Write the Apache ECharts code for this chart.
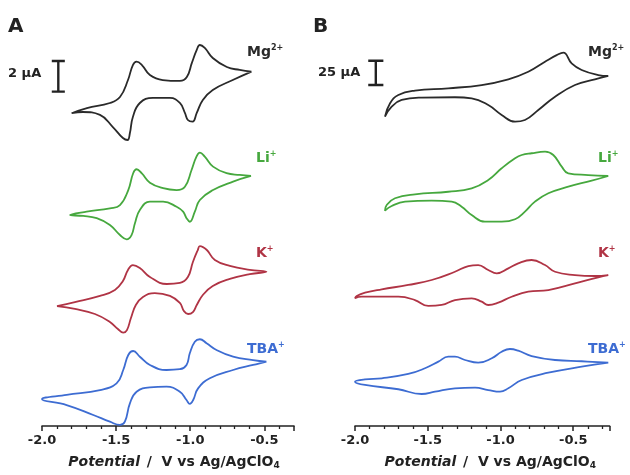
<!DOCTYPE html>
<html>
<head>
<meta charset="utf-8">
<script src="https://cdn.jsdelivr.net/npm/echarts@6/dist/echarts.min.js"></script>
<style>
  html, body { margin: 0; padding: 0; background: #fff; }
  #cv { width: 630px; height: 475px; }
</style>
</head>
<body>
<div id="cv"></div>
<script>
// cations, top to bottom
const cations = ['Mg', 'Li', 'K', 'TBA'];
const cationSup = ['2+', '+', '+', '+'];
const colors = ['#2a2a2a', '#46a83e', '#b03445', '#3d6cd2'];

// vertical stacking of the traces (uA)
const offsetsA = [22, 15, 8.5, 2.5];
const offsetsB = [330, 240, 140, 50];

// panel A: [potential V vs Ag/AgClO4, current uA]
const cvA_Mg = [[-0.587,1.16],[-0.713,0.61],[-0.848,-0.04],[-0.915,-0.69],[-0.956,-1.54],[-0.984,-2.11],[-1.016,-2.0],[-1.036,-1.54],[-1.070,-0.89],[-1.137,-0.56],[-1.252,-0.56],[-1.340,-0.89],[-1.387,-1.80],[-1.407,-2.85],[-1.423,-3.31],[-1.454,-3.18],[-1.522,-2.46],[-1.609,-1.67],[-1.724,-1.48],[-1.800,-1.56],
  [-1.697,-1.22],[-1.542,-0.89],[-1.474,-0.50],[-1.420,0.61],[-1.387,1.59],[-1.362,1.81],[-1.326,1.59],[-1.272,0.94],[-1.185,0.61],[-1.070,0.55],[-1.023,0.81],[-0.989,1.73],[-0.956,2.58],[-0.935,2.90],[-0.902,2.71],[-0.848,2.05],[-0.753,1.46],[-0.666,1.27],[-0.587,1.16]];
const cvA_Li = [[-0.59,1.34],[-0.711,0.97],[-0.846,0.42],[-0.935,-0.23],[-0.969,-0.99],[-1.003,-1.65],[-1.025,-1.42],[-1.048,-0.99],[-1.092,-0.67],[-1.183,-0.34],[-1.272,-0.34],[-1.340,-0.88],[-1.373,-1.75],[-1.396,-2.52],[-1.429,-2.80],[-1.474,-2.52],[-1.542,-1.86],[-1.631,-1.42],[-1.722,-1.27],[-1.811,-1.21],
  [-1.699,-0.99],[-1.542,-0.77],[-1.474,-0.56],[-1.418,0.42],[-1.385,1.52],[-1.362,1.78],[-1.328,1.52],[-1.272,0.90],[-1.183,0.54],[-1.092,0.42],[-1.036,0.64],[-0.991,1.73],[-0.958,2.60],[-0.935,2.86],[-0.902,2.60],[-0.846,1.95],[-0.755,1.52],[-0.666,1.41],[-0.59,1.34]];
const cvA_K = [[-1.899,-0.66],[-1.778,-0.40],[-1.609,0.00],[-1.508,0.39],[-1.454,0.98],[-1.420,1.70],[-1.387,2.02],[-1.340,1.83],[-1.272,1.24],[-1.158,0.78],[-1.070,0.85],[-1.016,1.24],[-0.982,2.22],[-0.949,3.00],[-0.935,3.26],[-0.888,3.00],[-0.834,2.35],[-0.733,1.96],[-0.598,1.70],[-0.486,1.58],
  [-0.598,1.43],[-0.733,1.11],[-0.848,0.65],[-0.915,0.06],[-0.956,-0.59],[-0.982,-1.05],[-1.014,-1.18],[-1.043,-0.98],[-1.070,-0.46],[-1.137,0.00],[-1.239,0.19],[-1.319,-0.07],[-1.367,-0.59],[-1.400,-1.44],[-1.427,-2.23],[-1.452,-2.40],[-1.488,-2.16],[-1.542,-1.70],[-1.643,-1.18],[-1.778,-0.85],[-1.899,-0.66]];
const cvA_TBA = [[-0.486,1.70],[-0.576,1.81],[-0.711,2.03],[-0.823,2.47],[-0.890,2.91],[-0.935,3.17],[-0.969,3.01],[-1.003,2.25],[-1.025,1.49],[-1.070,1.21],[-1.160,1.16],[-1.272,1.49],[-1.340,2.03],[-1.385,2.40],[-1.418,2.14],[-1.452,1.16],[-1.497,0.29],[-1.609,-0.15],[-1.834,-0.47],[-2.0,-0.75],
  [-1.834,-1.13],[-1.654,-1.78],[-1.542,-2.22],[-1.474,-2.43],[-1.441,-2.22],[-1.407,-1.02],[-1.362,-0.26],[-1.272,0.03],[-1.160,0.07],[-1.070,-0.26],[-1.025,-0.80],[-1.003,-1.06],[-0.980,-0.80],[-0.947,-0.04],[-0.868,0.62],[-0.711,1.16],[-0.576,1.49],[-0.486,1.70]];

// panel B
const cvB_Mg = [[-0.259,30.1],[-0.328,31.1],[-0.442,36.3],[-0.511,43.1],[-0.568,54.1],[-0.614,51.5],[-0.694,44.8],[-0.809,34.5],[-0.946,26.7],[-1.129,20.8],[-1.359,17.4],[-1.588,15.0],[-1.702,10.5],[-1.759,2.0],[-1.794,-11.8],
  [-1.748,-1.5],[-1.679,5.4],[-1.542,7.8],[-1.313,8.2],[-1.198,7.1],[-1.084,0.2],[-0.992,-10.0],[-0.900,-16.9],[-0.832,-15.2],[-0.740,-4.9],[-0.625,8.8],[-0.488,20.8],[-0.351,26.7],[-0.259,30.1]];
const cvB_Li = [[-0.259,17.2],[-0.397,18.2],[-0.534,20.0],[-0.579,26.8],[-0.637,38.8],[-0.694,42.2],[-0.786,40.6],[-0.854,38.8],[-0.900,35.4],[-0.992,25.1],[-1.084,13.1],[-1.198,4.5],[-1.359,1.0],[-1.588,-1.6],[-1.725,-5.7],[-1.782,-12.6],[-1.794,-18.5],
  [-1.748,-13.7],[-1.656,-9.2],[-1.473,-8.2],[-1.335,-9.2],[-1.267,-14.4],[-1.198,-22.9],[-1.107,-29.8],[-0.992,-29.8],[-0.900,-27.3],[-0.832,-19.5],[-0.763,-9.2],[-0.671,-0.6],[-0.534,6.2],[-0.373,12.4],[-0.259,17.2]];
const cvB_K = [[-0.259,15.3],[-0.351,14.3],[-0.488,15.3],[-0.625,18.7],[-0.694,25.6],[-0.786,30.8],[-0.878,27.4],[-0.946,22.2],[-1.026,17.1],[-1.084,20.5],[-1.153,25.6],[-1.221,24.6],[-1.313,18.7],[-1.473,10.2],[-1.634,5.1],[-1.816,0.6],[-1.931,-2.9],[-1.988,-6.3],[-2.0,-8.6],
  [-1.954,-7.0],[-1.702,-7.0],[-1.588,-10.4],[-1.496,-16.5],[-1.404,-15.5],[-1.313,-10.4],[-1.198,-8.6],[-1.129,-12.1],[-1.084,-15.5],[-1.015,-13.1],[-0.923,-7.0],[-0.809,-1.8],[-0.671,-0.1],[-0.488,6.8],[-0.328,13.0],[-0.259,15.3]];
const cvB_TBA = [[-0.259,15.1],[-0.442,16.6],[-0.625,17.9],[-0.786,22.0],[-0.878,27.5],[-0.935,29.2],[-0.992,26.4],[-1.060,19.7],[-1.153,15.1],[-1.244,17.9],[-1.313,21.3],[-1.359,21.3],[-1.427,16.2],[-1.519,9.4],[-1.634,3.5],[-1.816,-0.9],[-1.931,-2.0],[-2.0,-4.4],
  [-1.931,-7.8],[-1.702,-12.2],[-1.542,-17.1],[-1.450,-14.7],[-1.313,-11.2],[-1.175,-10.6],[-1.084,-13.0],[-1.003,-14.7],[-0.946,-11.2],[-0.854,-2.7],[-0.671,4.8],[-0.442,11.0],[-0.259,15.1]];

const tracesA = [cvA_Mg, cvA_Li, cvA_K, cvA_TBA];
const tracesB = [cvB_Mg, cvB_Li, cvB_K, cvB_TBA];

// scale bars: [potential, bottom current, length uA, half cap width V]
const scaleBarA = [-1.89, 21.85, 2, 0.044];
const scaleBarB = [-1.857, 350.8, 25, 0.052];

const font = '"DejaVu Sans", sans-serif';

function barPath(b) {
  const [p, y0, h, c] = b;
  return [[p - c, y0 + h], [p + c, y0 + h], [p, y0 + h], [p, y0], [p - c, y0], [p + c, y0]];
}

function cvSeries(traces, offsets, idx) {
  return traces.map((t, i) => ({
    type: 'line',
    xAxisIndex: idx, yAxisIndex: idx,
    data: t.map(d => [d[0], d[1] + offsets[i]]),
    showSymbol: false,
    smooth: 0.45,
    lineStyle: { color: colors[i], width: 1.8 },
    silent: true
  }));
}

function xAxisOf(idx, max, pad) {
  return {
    type: 'value', gridIndex: idx, min: -2.0, max: max, interval: 0.5,
    axisLine: { show: true, onZero: false, lineStyle: { color: '#222', width: 1.6 } },
    axisTick: { show: true, length: 5, lineStyle: { color: '#222', width: 1.5 } },
    minorTick: { show: true, splitNumber: 5, length: 3, lineStyle: { color: '#222', width: 1.3 } },
    splitLine: { show: false },
    axisLabel: {
      margin: 8, color: '#222', fontSize: 13, fontWeight: 'bold', fontFamily: font,
      formatter: v => Math.abs(v * 2 - Math.round(v * 2)) < 1e-6 ? v.toFixed(1) : ''
    },
    name: '{i|Potential}  {n|/  V vs Ag/AgClO}{s|4}',
    nameLocation: 'middle', nameGap: 28,
    nameTextStyle: {
      padding: [0, 0, 0, pad],
      rich: {
        i: { fontSize: 14, fontStyle: 'italic', fontWeight: 'bold', color: '#222', fontFamily: font },
        n: { fontSize: 14, fontWeight: 'bold', color: '#222', fontFamily: font },
        s: { fontSize: 9, fontWeight: 'bold', color: '#222', fontFamily: font, padding: [7, 0, 0, 0] }
      }
    }
  };
}

function label(x, y, i) {
  return {
    type: 'text', x: x, y: y,
    style: {
      text: '{b|' + cations[i] + '}{s|' + cationSup[i] + '}',
      verticalAlign: 'middle',
      rich: {
        b: { fontSize: 14, fontWeight: 'bold', fontFamily: font, fill: colors[i] },
        s: { fontSize: 8, fontWeight: 'bold', fontFamily: font, fill: colors[i], padding: [0, 0, 9, 0] }
      }
    }
  };
}

const plainText = (x, y, text, size) => ({
  type: 'text', x: x, y: y,
  style: { text: text, verticalAlign: 'middle', fill: '#222', font: 'bold ' + size + 'px ' + font }
});

const chart = echarts.init(document.getElementById('cv'));
chart.setOption({
  animation: false,
  grid: [
    { left: 42, top: 30, width: 252, height: 396 },
    { left: 355, top: 30, width: 254.6, height: 396 }
  ],
  xAxis: [xAxisOf(0, -0.3, 12), xAxisOf(1, -0.25, 16)],
  yAxis: [
    { type: 'value', gridIndex: 0, min: 0, max: 25.88, show: false },
    { type: 'value', gridIndex: 1, min: 0, max: 407.4, show: false }
  ],
  series: [
    ...cvSeries(tracesA, offsetsA, 0),
    ...cvSeries(tracesB, offsetsB, 1),
    { type: 'line', xAxisIndex: 0, yAxisIndex: 0, data: barPath(scaleBarA), showSymbol: false,
      lineStyle: { color: '#222', width: 2.4 }, silent: true },
    { type: 'line', xAxisIndex: 1, yAxisIndex: 1, data: barPath(scaleBarB), showSymbol: false,
      lineStyle: { color: '#222', width: 2.4 }, silent: true }
  ],
  graphic: [
    plainText(8, 27, 'A', 20),
    plainText(313, 27, 'B', 20),
    plainText(8, 74, scaleBarA[2] + ' μA', 13),
    plainText(318, 73, scaleBarB[2] + ' μA', 13),
    label(247, 52, 0), label(256, 158, 1), label(256, 253, 2), label(247, 349, 3),
    label(588, 52, 0), label(598, 158, 1), label(598, 253, 2), label(588, 349, 3)
  ]
});
</script>
</body>
</html>
